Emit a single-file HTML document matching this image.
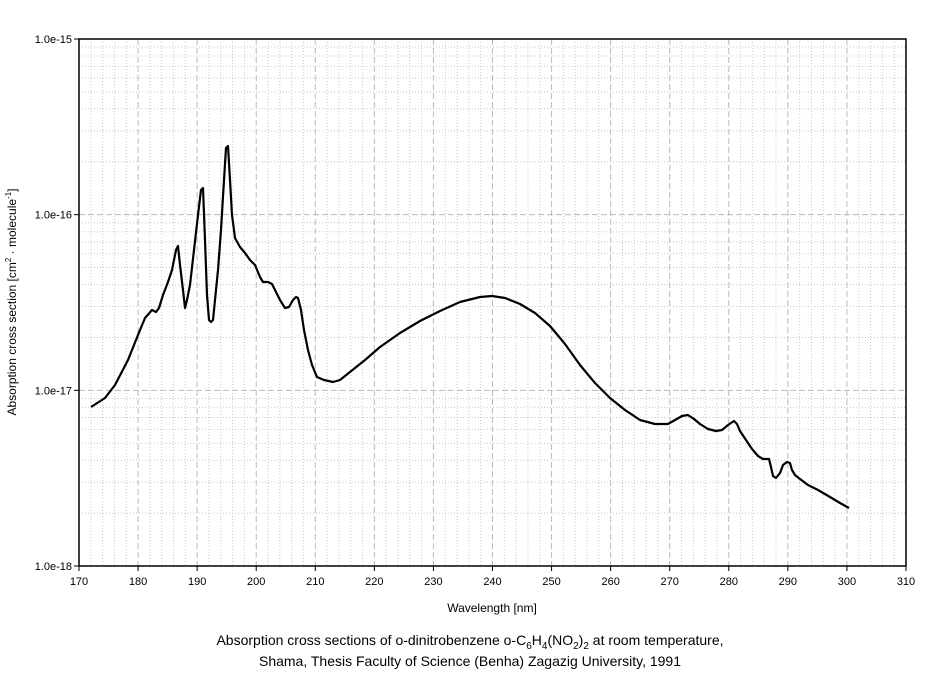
<!DOCTYPE html>
<html><head><meta charset="utf-8"><style>
body{margin:0;background:#fff;}
svg{display:block;font-family:"Liberation Sans",sans-serif;}
</style></head><body>
<svg id="s" width="944" height="673" xmlns="http://www.w3.org/2000/svg">
<g id="grid"></g>
<rect x="79" y="39" width="827" height="527" fill="none" stroke="#000" stroke-width="1.5"/>
<g id="ticks" font-size="11" fill="#000"></g>
<polyline fill="none" stroke="#000" stroke-width="2.2" stroke-linejoin="round" points="91,407 105,398 115,385 128,360 138,335 145,318 152,310 156,312 159,308 163,295 168,282 172,270 176,250 178,246 180,265 183,290 185,308 187,300 190,285 194,250 198,215 201,190 203,188 205,240 207,295 209,320 211,322 213,320 215,300 218,270 221,230 224,180 226,148 228,146 230,180 232,215 235,238 240,247 245,253 250,260 255,265 260,277 263,282 268,282 272,284 276,292 280,300 285,308 289,307 293,300 296,297 298,298 301,310 304,330 308,350 312,365 317,377 324,380 333,382 340,380 350,372 365,360 380,347 400,333 420,321 440,311 460,302 480,297 492,296 505,298 520,304 535,313 550,326 565,344 580,365 595,383 610,398 625,410 640,420 655,424 668,424 675,420 682,416 688,415 694,419 700,424 708,429 716,431 722,430 728,425 734,421 737,424 740,431 746,440 752,449 758,456 763,459 769,459 771,467 773,476 776,478 780,473 783,465 787,462 790,463 792,470 795,475 800,479 808,485 818,490 830,497 840,503 849,508"/>
<text x="492" y="612" font-size="12" text-anchor="middle">Wavelength [nm]</text>
<text transform="translate(16,302) rotate(-90)" font-size="12" text-anchor="middle">Absorption cross section [cm<tspan font-size="8" dy="-5">2</tspan><tspan dy="5"> · molecule</tspan><tspan font-size="8" dy="-5">-1</tspan><tspan dy="5">]</tspan></text>
<text x="470" y="645" font-size="14" text-anchor="middle">Absorption cross sections of o-dinitrobenzene o-C<tspan font-size="10" dy="4">6</tspan><tspan dy="-4">H</tspan><tspan font-size="10" dy="4">4</tspan><tspan dy="-4">(NO</tspan><tspan font-size="10" dy="4">2</tspan><tspan dy="-4">)</tspan><tspan font-size="10" dy="4">2</tspan><tspan dy="-4"> at room temperature,</tspan></text>
<text x="470" y="666" font-size="14" text-anchor="middle">Shama, Thesis Faculty of Science (Benha) Zagazig University, 1991</text>
</svg>
<script>
var ns="http://www.w3.org/2000/svg",g=document.getElementById("grid"),t=document.getElementById("ticks");
function L(p,x1,y1,x2,y2,st,da){var l=document.createElementNS(ns,"line");l.setAttribute("x1",x1);l.setAttribute("y1",y1);l.setAttribute("x2",x2);l.setAttribute("y2",y2);l.setAttribute("stroke",st);l.setAttribute("stroke-width",1);if(da)l.setAttribute("stroke-dasharray",da);p.appendChild(l);}
function T(x,y,s,a){var e=document.createElementNS(ns,"text");e.setAttribute("x",x);e.setAttribute("y",y);e.setAttribute("text-anchor",a);e.textContent=s;t.appendChild(e);}
var x0=79,dx=827/140,yb=566,dec=527/3;
for(var w=172;w<310;w+=2){if(w%10)L(g,x0+(w-170)*dx,39,x0+(w-170)*dx,566,"#c8c8c8","1,2");}
for(var d=0;d<3;d++)for(var m=2;m<10;m++){var y=yb-dec*(d+Math.log10(m));L(g,79,y,906,y,"#c8c8c8","1,2");}
for(var w=170;w<=310;w+=10){var x=x0+(w-170)*dx;if(w>170&&w<310)L(g,x,39,x,566,"#bbb","6,3");L(t,x,566,x,571,"#000");T(x,585,w,"middle");}
var lab=["1.0e-18","1.0e-17","1.0e-16","1.0e-15"];
for(var d=0;d<4;d++){var y=yb-dec*d;if(d>0&&d<3)L(g,79,y,906,y,"#bbb","6,3");L(t,74,y,79,y,"#000");T(72,y+4,lab[d],"end");}
</script>
</body></html>
